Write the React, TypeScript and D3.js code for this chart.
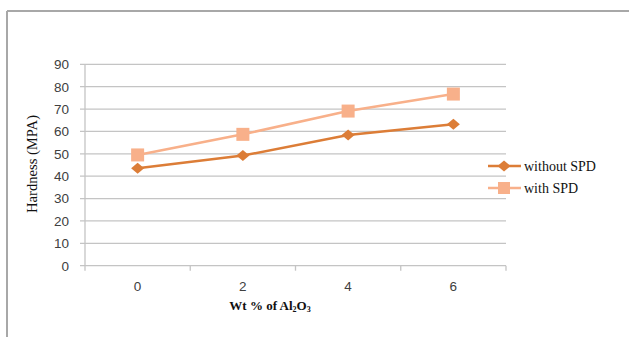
import React from "react";
import * as d3 from "d3";

const categories = ["0", "2", "4", "6"];
const withoutSPD = [43.5, 49.2, 58.4, 63.2];
const withSPD = [49.5, 58.7, 69.1, 76.7];
const yTicks = [0, 10, 20, 30, 40, 50, 60, 70, 80, 90];
const seriesNames = ["without SPD", "with SPD"];

const W = 629;
const H = 337;
const plot = { left: 85, right: 506, top: 64.3, bottom: 265.7 };
const colors = ["#dc7d37", "#f8b08a"];

// wide diamond marker
const diamondPath = (() => {
  const p = d3.path();
  p.moveTo(-6.5, 0);
  p.lineTo(0, -5.5);
  p.lineTo(6.5, 0);
  p.lineTo(0, 5.5);
  p.closePath();
  return p.toString();
})();

export default function App() {
  const x = d3
    .scaleBand<string>()
    .domain(categories)
    .range([plot.left, plot.right])
    .padding(0);
  const y = d3.scaleLinear().domain([0, 90]).range([plot.bottom, plot.top]);
  const cx = (c: string) => (x(c) as number) + x.bandwidth() / 2;

  const line = d3
    .line<number>()
    .x((_, i) => cx(categories[i]))
    .y((v) => y(v));

  const boundaries = [...categories.map((c) => x(c) as number), plot.right];
  const legendY = [166, 188];

  return (
    <svg
      width={W}
      height={H}
      style={{ position: "absolute", left: 0, top: 0, background: "#fff" }}
    >
      {/* outer frame */}
      <line x1={7} y1={11} x2={W} y2={11} stroke="#a8a8a8" strokeWidth={2} />
      <line x1={7} y1={11} x2={7} y2={H} stroke="#a8a8a8" strokeWidth={2} />

      {/* gridlines */}
      {yTicks.map((t) => (
        <line
          key={t}
          x1={plot.left - 5}
          x2={plot.right}
          y1={y(t)}
          y2={y(t)}
          stroke="#c4c4c4"
          strokeWidth={1.3}
        />
      ))}
      {/* y axis */}
      <line x1={plot.left} x2={plot.left} y1={plot.top} y2={plot.bottom} stroke="#c4c4c4" strokeWidth={1.3} />
      {/* x ticks */}
      {boundaries.map((b, i) => (
        <line key={i} x1={b} x2={b} y1={plot.bottom} y2={plot.bottom + 5} stroke="#c4c4c4" strokeWidth={1.3} />
      ))}

      {/* y tick labels */}
      {yTicks.map((t) => (
        <text
          key={t}
          x={69}
          y={y(t)}
          dy="0.36em"
          textAnchor="end"
          fontFamily="'Liberation Sans', Arial, sans-serif"
          fontSize={13.5}
          fill="#404040"
        >
          {t}
        </text>
      ))}
      {/* x tick labels */}
      {categories.map((c) => (
        <text
          key={c}
          x={cx(c)}
          y={291}
          textAnchor="middle"
          fontFamily="'Liberation Sans', Arial, sans-serif"
          fontSize={13.5}
          fill="#404040"
        >
          {c}
        </text>
      ))}

      {/* axis titles */}
      <text
        transform="translate(37,164) rotate(-90)"
        textAnchor="middle"
        fontFamily="'Liberation Serif', 'Times New Roman', serif"
        fontSize={14.5}
        fill="#111"
        textLength={98}
        lengthAdjust="spacingAndGlyphs"
      >
        Hardness (MPA)
      </text>
      <text
        x={270}
        y={310}
        textAnchor="middle"
        fontFamily="'Liberation Serif', 'Times New Roman', serif"
        fontSize={13}
        fontWeight="bold"
        fill="#111"
      >
        Wt % of Al
        <tspan fontSize={8} dy={1.5}>2</tspan>
        <tspan dy={-1.5}>O</tspan>
        <tspan fontSize={8} dy={1.5}>3</tspan>
      </text>

      {/* series lines */}
      <path d={line(withSPD) as string} fill="none" stroke={colors[1]} strokeWidth={2.5} />
      <path d={line(withoutSPD) as string} fill="none" stroke={colors[0]} strokeWidth={2.5} />

      {withSPD.map((v, i) => (
        <rect key={i} x={cx(categories[i]) - 6.5} y={y(v) - 6.5} width={13} height={13} fill={colors[1]} />
      ))}
      {withoutSPD.map((v, i) => (
        <path key={i} d={diamondPath} transform={`translate(${cx(categories[i])},${y(v)})`} fill={colors[0]} />
      ))}

      {/* legend */}
      {seriesNames.map((name, i) => (
        <g key={name}>
          <line x1={488} x2={521} y1={legendY[i]} y2={legendY[i]} stroke={colors[i]} strokeWidth={2.5} />
          {i === 0 ? (
            <path d={diamondPath} transform={`translate(504,${legendY[i]})`} fill={colors[0]} />
          ) : (
            <rect x={498} y={legendY[i] - 6} width={12} height={12} fill={colors[1]} />
          )}
          <text
            x={524}
            y={legendY[i]}
            dy="0.33em"
            fontFamily="'Liberation Serif', 'Times New Roman', serif"
            fontSize={14}
            fill="#111"
          >
            {name}
          </text>
        </g>
      ))}
    </svg>
  );
}
